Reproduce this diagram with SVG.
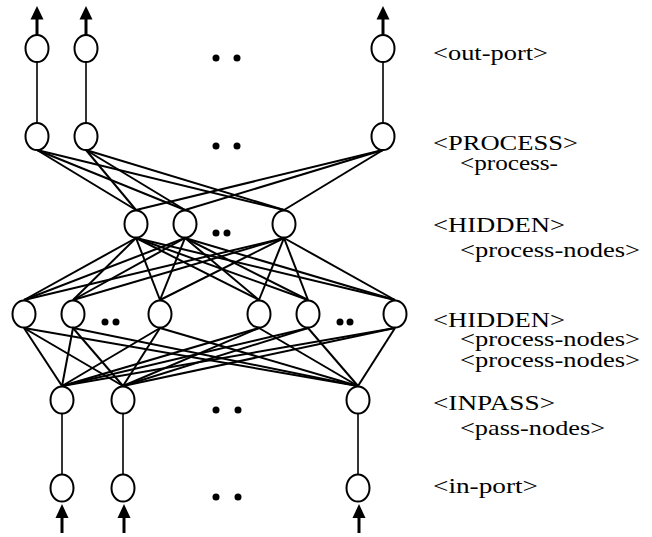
<svg xmlns="http://www.w3.org/2000/svg" width="652" height="537" viewBox="0 0 652 537">
  <style>
    .node { fill: #fff; stroke: #000; stroke-width: 2; }
    .edge { stroke: #000; stroke-width: 2; fill: none; }
    .link { stroke: #000; stroke-width: 1.6; fill: none; }
    .shaft { stroke: #000; stroke-width: 3; fill: none; }
    .head { fill: #000; }
    .dot { fill: #000; }
    .lbl { font-size: 22px; fill: #000; }
  </style>
  <rect width="652" height="537" fill="#fff"/>

  <!-- connectors -->
  <g id="connectors">
    <!-- out-port <-> PROCESS -->
    <line class="link" x1="37" y1="62" x2="37" y2="123"/>
    <line class="link" x1="86" y1="62" x2="86" y2="123"/>
    <line class="link" x1="383" y1="62" x2="383" y2="123"/>
    <!-- PROCESS -> HIDDEN (upper) -->
    <line class="edge" x1="37" y1="150" x2="136" y2="210"/>
    <line class="edge" x1="37" y1="150" x2="185" y2="210"/>
    <line class="edge" x1="37" y1="150" x2="284" y2="210"/>
    <line class="edge" x1="86" y1="150" x2="136" y2="210"/>
    <line class="edge" x1="86" y1="150" x2="185" y2="210"/>
    <line class="edge" x1="86" y1="150" x2="284" y2="210"/>
    <line class="edge" x1="383" y1="150" x2="136" y2="210"/>
    <line class="edge" x1="383" y1="150" x2="185" y2="210"/>
    <line class="edge" x1="383" y1="150" x2="284" y2="210"/>
    <!-- HIDDEN (upper) -> HIDDEN (lower) -->
    <line class="edge" x1="136" y1="238" x2="24" y2="300"/>
    <line class="edge" x1="136" y1="238" x2="73" y2="300"/>
    <line class="edge" x1="136" y1="238" x2="160" y2="300"/>
    <line class="edge" x1="136" y1="238" x2="259" y2="300"/>
    <line class="edge" x1="136" y1="238" x2="308" y2="300"/>
    <line class="edge" x1="136" y1="238" x2="395" y2="300"/>
    <line class="edge" x1="185" y1="238" x2="24" y2="300"/>
    <line class="edge" x1="185" y1="238" x2="73" y2="300"/>
    <line class="edge" x1="185" y1="238" x2="160" y2="300"/>
    <line class="edge" x1="185" y1="238" x2="259" y2="300"/>
    <line class="edge" x1="185" y1="238" x2="308" y2="300"/>
    <line class="edge" x1="185" y1="238" x2="395" y2="300"/>
    <line class="edge" x1="284" y1="238" x2="24" y2="300"/>
    <line class="edge" x1="284" y1="238" x2="73" y2="300"/>
    <line class="edge" x1="284" y1="238" x2="160" y2="300"/>
    <line class="edge" x1="284" y1="238" x2="259" y2="300"/>
    <line class="edge" x1="284" y1="238" x2="308" y2="300"/>
    <line class="edge" x1="284" y1="238" x2="395" y2="300"/>
    <!-- HIDDEN (lower) -> INPASS -->
    <line class="edge" x1="24" y1="328" x2="62" y2="386"/>
    <line class="edge" x1="24" y1="328" x2="123" y2="386"/>
    <line class="edge" x1="24" y1="328" x2="358" y2="386"/>
    <line class="edge" x1="73" y1="328" x2="62" y2="386"/>
    <line class="edge" x1="73" y1="328" x2="123" y2="386"/>
    <line class="edge" x1="73" y1="328" x2="358" y2="386"/>
    <line class="edge" x1="160" y1="328" x2="62" y2="386"/>
    <line class="edge" x1="160" y1="328" x2="123" y2="386"/>
    <line class="edge" x1="160" y1="328" x2="358" y2="386"/>
    <line class="edge" x1="259" y1="328" x2="62" y2="386"/>
    <line class="edge" x1="259" y1="328" x2="123" y2="386"/>
    <line class="edge" x1="259" y1="328" x2="358" y2="386"/>
    <line class="edge" x1="308" y1="328" x2="62" y2="386"/>
    <line class="edge" x1="308" y1="328" x2="123" y2="386"/>
    <line class="edge" x1="308" y1="328" x2="358" y2="386"/>
    <line class="edge" x1="395" y1="328" x2="62" y2="386"/>
    <line class="edge" x1="395" y1="328" x2="123" y2="386"/>
    <line class="edge" x1="395" y1="328" x2="358" y2="386"/>
    <!-- INPASS <-> in-port -->
    <line class="link" x1="62" y1="414" x2="62" y2="474"/>
    <line class="link" x1="123" y1="414" x2="123" y2="474"/>
    <line class="link" x1="358" y1="414" x2="358" y2="474"/>
    <!-- outgoing arrows -->
    <line class="shaft" x1="37" y1="35" x2="37" y2="18"/>
    <polygon class="head" points="37,6 30.5,19.5 43.5,19.5"/>
    <line class="shaft" x1="86" y1="35" x2="86" y2="18"/>
    <polygon class="head" points="86,6 79.5,19.5 92.5,19.5"/>
    <line class="shaft" x1="383" y1="35" x2="383" y2="18"/>
    <polygon class="head" points="383,6 376.5,19.5 389.5,19.5"/>
    <!-- incoming arrows -->
    <line class="shaft" x1="62" y1="533" x2="62" y2="516"/>
    <polygon class="head" points="62,504 55.5,518 68.5,518"/>
    <line class="shaft" x1="124" y1="533" x2="124" y2="516"/>
    <polygon class="head" points="124,504 117.5,518 130.5,518"/>
    <line class="shaft" x1="359" y1="533" x2="359" y2="516"/>
    <polygon class="head" points="359,504 352.5,518 365.5,518"/>
  </g>

  <!-- out-port layer -->
  <g id="out1"><ellipse class="node" cx="37" cy="48.5" rx="11.5" ry="13.5"/></g>
  <g id="out2"><ellipse class="node" cx="86" cy="48.5" rx="11.5" ry="13.5"/></g>
  <g id="out3"><ellipse class="node" cx="383" cy="48.5" rx="11.5" ry="13.5"/></g>

  <!-- PROCESS layer -->
  <g id="proc1"><ellipse class="node" cx="37" cy="136.5" rx="11.5" ry="13.5"/></g>
  <g id="proc2"><ellipse class="node" cx="86" cy="136.5" rx="11.5" ry="13.5"/></g>
  <g id="proc3"><ellipse class="node" cx="383" cy="136.5" rx="11.5" ry="13.5"/></g>

  <!-- upper HIDDEN layer -->
  <g id="hidA1"><ellipse class="node" cx="136" cy="224" rx="11.5" ry="13.5"/></g>
  <g id="hidA2"><ellipse class="node" cx="185" cy="224" rx="11.5" ry="13.5"/></g>
  <g id="hidA3"><ellipse class="node" cx="284" cy="224" rx="11.5" ry="13.5"/></g>

  <!-- lower HIDDEN layer -->
  <g id="hidB1"><ellipse class="node" cx="24" cy="314" rx="11.5" ry="13.5"/></g>
  <g id="hidB2"><ellipse class="node" cx="73" cy="314" rx="11.5" ry="13.5"/></g>
  <g id="hidB3"><ellipse class="node" cx="160" cy="314" rx="11.5" ry="13.5"/></g>
  <g id="hidB4"><ellipse class="node" cx="259" cy="314" rx="11.5" ry="13.5"/></g>
  <g id="hidB5"><ellipse class="node" cx="308" cy="314" rx="11.5" ry="13.5"/></g>
  <g id="hidB6"><ellipse class="node" cx="395" cy="314" rx="11.5" ry="13.5"/></g>

  <!-- INPASS layer -->
  <g id="pass1"><ellipse class="node" cx="62" cy="400" rx="11.5" ry="13.5"/></g>
  <g id="pass2"><ellipse class="node" cx="123" cy="400" rx="11.5" ry="13.5"/></g>
  <g id="pass3"><ellipse class="node" cx="358" cy="400" rx="11.5" ry="13.5"/></g>

  <!-- in-port layer -->
  <g id="in1"><ellipse class="node" cx="62" cy="488" rx="11.5" ry="13.5"/></g>
  <g id="in2"><ellipse class="node" cx="123" cy="488" rx="11.5" ry="13.5"/></g>
  <g id="in3"><ellipse class="node" cx="358" cy="488" rx="11.5" ry="13.5"/></g>

  <!-- ellipsis dots -->
  <g id="ellipses">
    <circle class="dot" cx="216" cy="58" r="3.5"/><circle class="dot" cx="237" cy="58" r="3.5"/>
    <circle class="dot" cx="216" cy="146" r="3.5"/><circle class="dot" cx="237" cy="146" r="3.5"/>
    <circle class="dot" cx="216" cy="233" r="3.5"/><circle class="dot" cx="227" cy="233" r="3.5"/>
    <circle class="dot" cx="105" cy="322" r="3.5"/><circle class="dot" cx="116" cy="322" r="3.5"/>
    <circle class="dot" cx="340" cy="322" r="3.5"/><circle class="dot" cx="350" cy="322" r="3.5"/>
    <circle class="dot" cx="216" cy="410" r="3.5"/><circle class="dot" cx="238" cy="410" r="3.5"/>
    <circle class="dot" cx="216" cy="497" r="3.5"/><circle class="dot" cx="238" cy="497" r="3.5"/>
  </g>

  <!-- layer labels -->
  <g id="labels" font-family="'Liberation Serif', 'Times New Roman', Times, serif">
    <text class="lbl" x="433" y="60" textLength="115" lengthAdjust="spacingAndGlyphs">&lt;out-port&gt;</text>
    <text class="lbl" x="433" y="150" textLength="145" lengthAdjust="spacingAndGlyphs">&lt;PROCESS&gt;</text>
    <text class="lbl" x="460" y="170" textLength="98" lengthAdjust="spacingAndGlyphs">&lt;process-</text>
    <text class="lbl" x="433" y="232" textLength="132" lengthAdjust="spacingAndGlyphs">&lt;HIDDEN&gt;</text>
    <text class="lbl" x="460" y="257" textLength="180" lengthAdjust="spacingAndGlyphs">&lt;process-nodes&gt;</text>
    <text class="lbl" x="433" y="327" textLength="132" lengthAdjust="spacingAndGlyphs">&lt;HIDDEN&gt;</text>
    <text class="lbl" x="460" y="346" textLength="180" lengthAdjust="spacingAndGlyphs">&lt;process-nodes&gt;</text>
    <text class="lbl" x="460" y="367" textLength="180" lengthAdjust="spacingAndGlyphs">&lt;process-nodes&gt;</text>
    <text class="lbl" x="433" y="410" textLength="122" lengthAdjust="spacingAndGlyphs">&lt;INPASS&gt;</text>
    <text class="lbl" x="460" y="435" textLength="145" lengthAdjust="spacingAndGlyphs">&lt;pass-nodes&gt;</text>
    <text class="lbl" x="433" y="493" textLength="105" lengthAdjust="spacingAndGlyphs">&lt;in-port&gt;</text>
  </g>
</svg>
